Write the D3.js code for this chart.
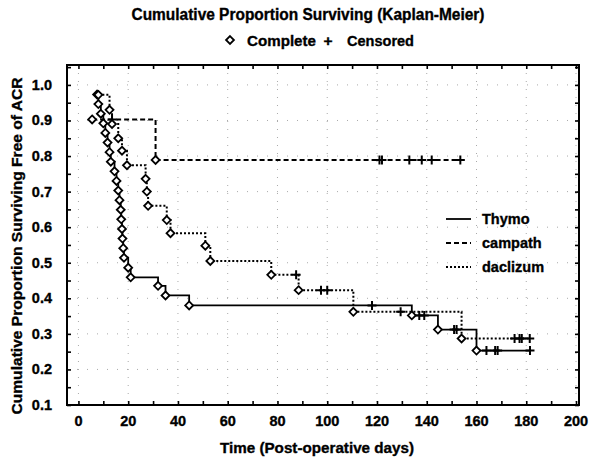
<!DOCTYPE html>
<html><head><meta charset="utf-8">
<script src="https://cdn.jsdelivr.net/npm/d3@7/dist/d3.min.js"></script>
<style>body{margin:0;background:#fff} text{stroke:#000;stroke-width:0.35px}</style>
</head><body>
<svg id="c" width="601" height="465"></svg>
<script>
// ---- data ----
const xTicks = [0,20,40,60,80,100,120,140,160,180,200];
const yTicks = [0.1,0.2,0.3,0.4,0.5,0.6,0.7,0.8,0.9,1.0];

const thymoDays = [7.5,8,9,10,10.8,11.7,12.5,13,14.5,15.3,16,16.5,17,17.2,17.5,17.7,18,18.3,20,21,32,35,44.5,134,144.5,160];
const thymoVals = [0.973,0.946,0.919,0.892,0.865,0.838,0.811,0.784,0.757,0.730,0.703,0.676,0.649,0.622,0.595,0.568,0.541,0.514,0.486,0.459,0.435,0.408,0.380,0.352,0.312,0.253];
const thymoCens = [118,137,139,151,152,164,167.5,168.5,181.5];

const campathDays = [5.5,31];
const campathVals = [0.903,0.789];
const campathCens = [13.5,121,122,133,138,142,153.5];

const daclDays = [8,12.5,13.5,16,17.5,19.5,27,27.5,28,35.5,37,51,53,77.5,88.5,110.5,154];
const daclVals = [0.972,0.930,0.890,0.850,0.815,0.774,0.736,0.700,0.660,0.620,0.583,0.548,0.505,0.466,0.423,0.362,0.287];
const daclCens = [87.5,97.5,100,129.5,175.3,177.3,178.2,181.4];

const seriesNames = ["Thymo","campath","daclizum"];
const dashes = [null,"5,3","2,2"];

// ---- layout ----
const svg = d3.select("#c");
const font = "'Liberation Sans', Arial, sans-serif";
const x = d3.scaleLinear().domain([-4.6, 201.2]).range([67, 579]);
const y = d3.scaleLinear().domain([0.1, 1.056]).range([405, 65]);

// grid
const g = svg.append("g");
g.selectAll(".gx").data(xTicks).join("line")
  .attr("x1", d=>x(d)).attr("x2", d=>x(d)).attr("y1", 65).attr("y2", 405)
  .attr("stroke","#aaa").attr("stroke-dasharray","1,7");
g.selectAll(".gy").data(yTicks).join("line")
  .attr("y1", d=>y(d)).attr("y2", d=>y(d)).attr("x1", 67).attr("x2", 579)
  .attr("stroke","#aaa").attr("stroke-dasharray","1,9");

// axes (ticks inward)
const minorX = d3.range(0, 201, 10);
const minorY = d3.range(0.1, 1.056, 0.05);
const axB = svg.append("g").attr("transform","translate(0,405)")
  .call(d3.axisTop(x).tickValues(minorX).tickSize(4).tickFormat(""));
const axT = svg.append("g").attr("transform","translate(0,65)")
  .call(d3.axisBottom(x).tickValues(minorX).tickSize(4).tickFormat(""));
const axL = svg.append("g").attr("transform","translate(67,0)")
  .call(d3.axisRight(y).tickValues(minorY).tickSize(4).tickFormat(""));
const axR = svg.append("g").attr("transform","translate(579,0)")
  .call(d3.axisLeft(y).tickValues(minorY).tickSize(4).tickFormat(""));
[axB,axT,axL,axR].forEach(a=>{a.select(".domain").remove(); a.selectAll("line").attr("stroke","#000").attr("stroke-width",1.6);});
svg.append("rect").attr("x",67).attr("y",65).attr("width",512).attr("height",340)
  .attr("fill","none").attr("stroke","#000").attr("stroke-width",2);

// tick labels
svg.append("g").selectAll("text").data(xTicks).join("text")
  .attr("x", d=>x(d)).attr("y", 426).attr("text-anchor","middle")
  .attr("font-family",font).attr("font-weight","bold").attr("font-size",14.5)
  .text(d=>d);
svg.append("g").selectAll("text").data(yTicks).join("text")
  .attr("x", 52).attr("y", d=>y(d)+5).attr("text-anchor","end")
  .attr("font-family",font).attr("font-weight","bold").attr("font-size",14.5)
  .text(d=>d3.format(".1f")(d));

// axis titles
svg.append("text").attr("x",317).attr("y",453).attr("text-anchor","middle")
  .attr("font-family",font).attr("font-weight","bold").attr("font-size",15)
  .attr("textLength",194).attr("lengthAdjust","spacingAndGlyphs")
  .text("Time (Post-operative days)");
svg.append("text").attr("transform","translate(22,246) rotate(-90)").attr("text-anchor","middle")
  .attr("font-family",font).attr("font-weight","bold").attr("font-size",14.5)
  .attr("textLength",337).attr("lengthAdjust","spacingAndGlyphs")
  .text("Cumulative Proportion Surviving Free of ACR");

// titles
svg.append("text").attr("x",308).attr("y",20).attr("text-anchor","middle")
  .attr("font-family",font).attr("font-weight","bold").attr("font-size",16)
  .attr("textLength",353).attr("lengthAdjust","spacingAndGlyphs")
  .text("Cumulative Proportion Surviving (Kaplan-Meier)");
const diamond = d3.symbol().type(d3.symbolDiamond2).size(40);
svg.append("path").attr("d",diamond()).attr("transform","translate(230,40)")
  .attr("fill","#fff").attr("stroke","#000").attr("stroke-width",1.8);
svg.append("text").attr("x",247).attr("y",46)
  .attr("font-family",font).attr("font-weight","bold").attr("font-size",15.5)
  .attr("textLength",69).attr("lengthAdjust","spacingAndGlyphs").text("Complete");
svg.append("text").attr("x",328).attr("y",46).attr("text-anchor","middle")
  .attr("font-family",font).attr("font-weight","bold").attr("font-size",15.5).text("+");
svg.append("text").attr("x",347).attr("y",46)
  .attr("font-family",font).attr("font-weight","bold").attr("font-size",15.5)
  .attr("textLength",67).attr("lengthAdjust","spacingAndGlyphs").text("Censored");

// curves
function stepVal(days, vals, t){ let v = vals[0]; for(let i=0;i<days.length;i++){ if(days[i]<=t) v = vals[i]; } return v; }
const series = [
  {days:thymoDays, vals:thymoVals, cens:thymoCens},
  {days:campathDays, vals:campathVals, cens:campathCens},
  {days:daclDays, vals:daclVals, cens:daclCens}
];
const line = d3.line().x(d=>x(d[0])).y(d=>y(d[1])).curve(d3.curveStepAfter);
const plot = svg.append("g");
series.forEach((s,i)=>{
  const pts = s.days.map((d,j)=>[d, s.vals[j]]);
  const lastT = d3.max(s.cens.concat(s.days));
  pts.push([lastT, stepVal(s.days, s.vals, lastT)]);
  plot.append("path").attr("d", line(pts)).attr("fill","none").attr("stroke","#000")
    .attr("stroke-width", i===0?1.8:2).attr("stroke-dasharray", dashes[i]);
});
series.forEach((s,i)=>{
  plot.append("g").selectAll("path").data(s.days.map((d,j)=>[d,s.vals[j]])).join("path")
    .attr("d", diamond()).attr("transform", d=>`translate(${x(d[0])},${y(d[1])})`)
    .attr("fill","#fff").attr("stroke","#000").attr("stroke-width",1.8);
  plot.append("g").selectAll("path").data(s.cens).join("path")
    .attr("d", "M-4.5,0H4.5M0,-4.5V4.5")
    .attr("transform", d=>`translate(${x(d)},${y(stepVal(s.days,s.vals,d))})`)
    .attr("stroke","#000").attr("stroke-width",2).attr("fill","none");
});

// legend
const leg = svg.append("g");
seriesNames.forEach((n,i)=>{
  const ly = 219 + i*24;
  leg.append("line").attr("x1",446).attr("x2",471).attr("y1",ly).attr("y2",ly)
    .attr("stroke","#000").attr("stroke-width",i===0?1.8:2).attr("stroke-dasharray",dashes[i]);
  leg.append("text").attr("x",482).attr("y",ly+5)
    .attr("font-family",font).attr("font-weight","bold").attr("font-size",14.5).text(n);
});
</script>
</body></html>
